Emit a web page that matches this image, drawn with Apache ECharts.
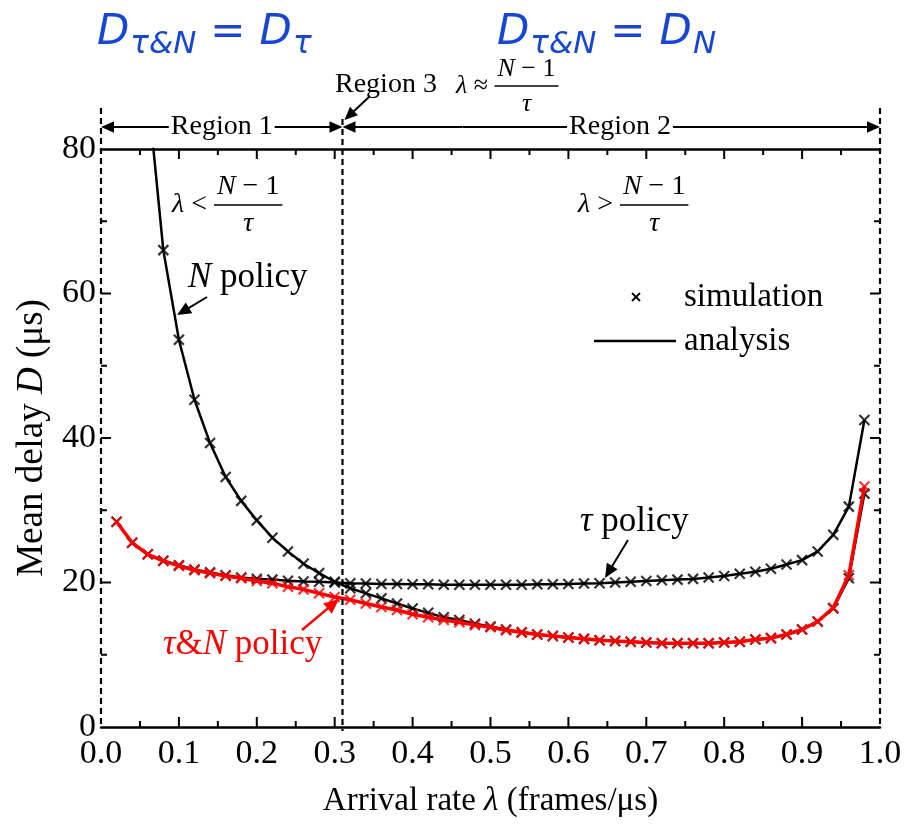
<!DOCTYPE html>
<html>
<head>
<meta charset="utf-8">
<script src="https://cdn.jsdelivr.net/npm/echarts@6/dist/echarts.min.js"></script>
<style>
  html, body { margin: 0; padding: 0; background: #fff; }
  #chart { width: 916px; height: 829px; }
</style>
</head>
<body>
<div id="chart"></div>
<script>
// arrival rate λ (frames/us)
const lambdas = [0.02, 0.04, 0.06, 0.08, 0.10, 0.12, 0.14, 0.16, 0.18, 0.20, 0.22, 0.24, 0.26, 0.28, 0.30,
  0.32, 0.34, 0.36, 0.38, 0.40, 0.42, 0.44, 0.46, 0.48, 0.50, 0.52, 0.54, 0.56, 0.58, 0.60,
  0.62, 0.64, 0.66, 0.68, 0.70, 0.72, 0.74, 0.76, 0.78, 0.80, 0.82, 0.84, 0.86, 0.88, 0.90,
  0.92, 0.94, 0.96, 0.98]
// mean delay D (us)
const tauPolicy = [28.4, 25.5, 23.9, 23.0, 22.4, 21.8, 21.4, 21.0, 20.7, 20.5, 20.4, 20.25, 20.15, 20.1, 20.0,
  19.9, 19.85, 19.8, 19.8, 19.75, 19.75, 19.7, 19.7, 19.7, 19.7, 19.7, 19.7, 19.75, 19.75, 19.8,
  19.85, 19.9, 20.0, 20.1, 20.2, 20.3, 20.4, 20.5, 20.7, 20.9, 21.2, 21.5, 21.9, 22.5, 23.1,
  24.3, 26.6, 30.5, 42.5]
const nPolicy = [null, null, 88, 66.0, 53.6, 45.3, 39.3, 34.6, 31.3, 28.6, 26.2, 24.3, 22.6, 21.3, 20.1,
  19.2, 18.5, 17.8, 17.1, 16.4, 15.8, 15.2, 14.8, 14.3, 13.9, 13.5, 13.1, 12.8, 12.6, 12.4,
  12.2, 12.0, 11.9, 11.8, 11.7, 11.6, 11.6, 11.6, 11.6, 11.7, 11.8, 12.1, 12.3, 12.8, 13.5,
  14.6, 16.4, 20.6, 32.3]
const tnPolicy = [28.4, 25.5, 23.9, 23.0, 22.3, 21.7, 21.3, 20.9, 20.6, 20.2, 19.9, 19.4, 19.05, 18.5, 18.0,
  17.6, 17.1, 16.6, 16.2, 15.6, 15.2, 14.8, 14.5, 14.1, 13.8, 13.4, 13.1, 12.8, 12.6, 12.4,
  12.2, 12.0, 11.9, 11.8, 11.7, 11.6, 11.6, 11.6, 11.6, 11.7, 11.8, 12.1, 12.3, 12.8, 13.5,
  14.6, 16.5, 21.0, 33.3]
// boundary (N-1)/tau between region 1 and region 2
const boundary = 0.31

// tick positions (major / minor)
const xMajor = [0.1, 0.2, 0.3, 0.4, 0.5, 0.6, 0.7, 0.8, 0.9]
const xMinor = [0.05, 0.15, 0.25, 0.35, 0.45, 0.55, 0.65, 0.75, 0.85, 0.95]
const yMajor = [20, 40, 60]
const yMinor = [10, 30, 50, 70]

const serif = 'Liberation Serif'
const mathFont = 'DejaVu Sans'
const blue = '#1747d2'
const red = '#ff0000'

function pairs (ys) {
  return lambdas.map((x, i) => [x, ys[i]]).filter(p => p[1] !== null)
}

const cross = 'path://M0,0L10,10M10,0L0,10'

function simSeries (ys, color, z) {
  return {
    type: 'scatter',
    data: pairs(ys),
    symbol: cross,
    symbolSize: 10,
    clip: true,
    z: z,
    itemStyle: { color: 'rgba(0,0,0,0)', borderColor: color, borderWidth: 2.2 }
  }
}

function lineSeries (ys, color, width, z) {
  return {
    type: 'line',
    data: pairs(ys),
    symbol: 'none',
    clip: true,
    z: z,
    lineStyle: { color: color, width: width }
  }
}

const chart = echarts.init(document.getElementById('chart'), null, { renderer: 'canvas' })

function axis (extra) {
  return Object.assign({
    type: 'value',
    splitLine: { show: false },
    minorSplitLine: { show: false },
    axisTick: { show: false },
    minorTick: { show: false }
  }, extra)
}

chart.setOption({
  animation: false,
  backgroundColor: '#fff',
  grid: { left: 101, right: 36, top: 149, bottom: 102 },
  xAxis: [
    axis({
      position: 'bottom',
      min: 0,
      max: 1,
      interval: 0.1,
      axisLine: { show: true, onZero: false, lineStyle: { color: '#000', width: 2.5 } },
      axisLabel: {
        color: '#000', fontFamily: serif, fontSize: 34, margin: 10,
        formatter: v => v.toFixed(1)
      },
      name: 'Arrival rate {i|λ} (frames/μs)',
      nameLocation: 'middle',
      nameGap: 58,
      nameTextStyle: {
        color: '#000', fontFamily: serif, fontSize: 33,
        rich: { i: { fontFamily: serif, fontSize: 33, fontStyle: 'italic', color: '#000' } }
      }
    }),
    axis({
      position: 'top',
      min: 0,
      max: 1,
      interval: 0.1,
      axisLine: { show: true, onZero: false, lineStyle: { color: '#000', width: 2.5 } },
      axisLabel: { show: false }
    })
  ],
  yAxis: [
    axis({
      position: 'left',
      min: 0,
      max: 80,
      interval: 20,
      axisLine: { show: false, onZero: false },
      axisLabel: { color: '#000', fontFamily: serif, fontSize: 34, margin: 5 },
      name: 'Mean delay {i|D} (μs)',
      nameLocation: 'middle',
      nameGap: 50,
      nameTextStyle: {
        color: '#000', fontFamily: serif, fontSize: 37,
        rich: { i: { fontFamily: serif, fontSize: 37, fontStyle: 'italic', color: '#000' } }
      }
    }),
    axis({
      position: 'right',
      min: 0,
      max: 80,
      interval: 20,
      axisLine: { show: false, onZero: false },
      axisLabel: { show: false }
    })
  ],
  series: [
    lineSeries(tauPolicy, '#000', 2.5, 2),
    lineSeries(nPolicy, '#000', 2.5, 2),
    simSeries(tauPolicy, '#000', 3),
    simSeries(nPolicy, '#000', 3),
    lineSeries(tnPolicy, red, 3.5, 4),
    simSeries(tnPolicy, red, 5)
  ]
})

// ---- annotations ----
const ctx = document.createElement('canvas').getContext('2d')
function textWidth (t, font) {
  ctx.font = font
  return ctx.measureText(t).width
}
// lay out pieces side by side: [text, size, italic, dy, gapAfter]
function seq (x, y, parts, color, family) {
  const out = []
  parts.forEach(p => {
    const font = (p[2] ? 'italic ' : '') + p[1] + 'px "' + family + '"'
    out.push({
      type: 'text', x: x, y: y + (p[3] || 0), z: 20,
      style: { text: p[0], font: font, fill: color, align: 'left', verticalAlign: 'middle' }
    })
    x += textWidth(p[0], font) + (p[4] || 0)
  })
  return out
}
function arrow (x1, y1, x2, y2, color, width, head) {
  const dx = x2 - x1
  const dy = y2 - y1
  const len = Math.sqrt(dx * dx + dy * dy)
  const ux = dx / len
  const uy = dy / len
  const hl = head || 14
  const hw = hl * 0.45
  const bx = x2 - ux * hl
  const by = y2 - uy * hl
  return [
    { type: 'line', z: 20, shape: { x1: x1, y1: y1, x2: bx + ux * 2, y2: by + uy * 2 }, style: { stroke: color, lineWidth: width } },
    { type: 'polygon', z: 20, shape: { points: [[x2, y2], [bx - uy * hw, by + ux * hw], [bx + uy * hw, by - ux * hw]] }, style: { fill: color } }
  ]
}
// short tick mark as a thin filled rectangle
function tick (x, y, w, h) {
  return { type: 'rect', z: 16, shape: { x: x, y: y, width: w, height: h }, style: { fill: '#000' } }
}
function vDash (x, y1, y2) {
  return { type: 'line', z: 15, shape: { x1: x, y1: y1, x2: x, y2: y2 }, style: { stroke: '#000', lineWidth: 2.2, lineDash: [6, 4] } }
}
function frac (x, yBar, rel, size) {
  const f = size + 'px "' + serif + '"'
  const fi = 'italic ' + f
  const out = seq(x, yBar, [['λ', size, true], [' ' + rel + ' ', size, false]], '#000', serif)
  const x0 = x + textWidth('λ', fi) + textWidth(' ' + rel + ' ', f)
  const numW = textWidth('N', fi) + textWidth(' − 1', f)
  const barW = numW + 6
  out.push.apply(out, seq(x0 + 3, yBar - size * 0.66, [['N', size, true], [' − 1', size, false]], '#000', serif))
  out.push({ type: 'line', z: 20, shape: { x1: x0, y1: yBar, x2: x0 + barW, y2: yBar }, style: { stroke: '#000', lineWidth: 1.5 } })
  out.push({
    type: 'text', x: x0 + barW / 2, y: yBar + size * 0.68, z: 20,
    style: { text: 'τ', font: fi, fill: '#000', align: 'center', verticalAlign: 'middle' }
  })
  return out
}

const px = v => chart.convertToPixel({ xAxisIndex: 0 }, v)
const py = v => chart.convertToPixel({ yAxisIndex: 0 }, v)
const x0 = px(0)
const x1 = px(1)
const xb = px(boundary)
const yBottom = py(0)
const yTop = py(80)
const yArrow = 127

let g = []
// inward ticks on all four sides
xMajor.forEach(v => {
  g.push(tick(px(v) - 1, yBottom - 10, 2, 10))
  g.push(tick(px(v) - 1, yTop, 2, 10))
})
xMinor.forEach(v => {
  g.push(tick(px(v) - 1, yBottom - 6, 2, 6))
  g.push(tick(px(v) - 1, yTop, 2, 6))
})
yMajor.forEach(v => {
  g.push(tick(x0, py(v) - 1, 10, 2))
  g.push(tick(x1 - 10, py(v) - 1, 10, 2))
})
yMinor.forEach(v => {
  g.push(tick(x0, py(v) - 1, 6, 2))
  g.push(tick(x1 - 6, py(v) - 1, 6, 2))
})

// dashed left/right borders and region boundary
g.push(vDash(x0, 108, yBottom))
g.push(vDash(x1, 108, yBottom))
g.push(vDash(xb, 119, yBottom + 4))

// region arrows
g = g.concat(arrow(x0 + 60, yArrow, x0, yArrow, '#000', 2, 13))
g = g.concat(arrow(x0 + 60, yArrow, xb, yArrow, '#000', 2, 13))
g = g.concat(arrow(xb + 120, yArrow, xb, yArrow, '#000', 2, 13))
g = g.concat(arrow(xb + 120, yArrow, x1, yArrow, '#000', 2, 13))
g.push({ type: 'text', x: (x0 + xb) / 2, y: yArrow, z: 21,
  style: { text: 'Region 1', font: '28px "' + serif + '"', fill: '#000', align: 'center', verticalAlign: 'middle', backgroundColor: '#fff', padding: [0, 2] } })
g.push({ type: 'text', x: 620, y: yArrow, z: 21,
  style: { text: 'Region 2', font: '28px "' + serif + '"', fill: '#000', align: 'center', verticalAlign: 'middle', backgroundColor: '#fff', padding: [0, 2] } })

// region 3
g.push({ type: 'text', x: 335, y: 85, z: 20,
  style: { text: 'Region 3', font: '28px "' + serif + '"', fill: '#000', align: 'left', verticalAlign: 'middle' } })
g = g.concat(frac(456, 86, '≈', 26))
g = g.concat(arrow(370, 96, xb + 2, 120, '#000', 2, 13))

// conditions
g = g.concat(frac(172, 205, '<', 28))
g = g.concat(frac(578, 205, '>', 28))

// blue headers
g = g.concat(seq(97, 33, [['D', 42, true, 0, 1], ['τ&N', 31, true, 12, 14], ['=', 42, false, 0, 14], ['D', 42, true, 0, 1], ['τ', 31, true, 12]], blue, mathFont))
g = g.concat(seq(497, 33, [['D', 42, true, 0, 1], ['τ&N', 31, true, 12, 14], ['=', 42, false, 0, 14], ['D', 42, true, 0, 1], ['N', 31, true, 12]], blue, mathFont))

// policy labels
g = g.concat(seq(188, 278, [['N', 35, true], [' policy', 35, false]], '#000', serif))
g = g.concat(arrow(207, 297, 177, 315, '#000', 2, 14))
g = g.concat(seq(580, 522, [['τ', 35, true], [' policy', 35, false]], '#000', serif))
g = g.concat(arrow(628, 540, 605, 578, '#000', 2, 14))
g = g.concat(seq(163, 645, [['τ', 35, true], ['&', 35, false], ['N', 35, true], [' policy', 35, false]], red, serif))
g = g.concat(arrow(302, 630, 339, 599, red, 2.5, 15))

// legend
g.push({ type: 'line', z: 20, shape: { x1: 632, y1: 293, x2: 640, y2: 301 }, style: { stroke: '#000', lineWidth: 1.8 } })
g.push({ type: 'line', z: 20, shape: { x1: 640, y1: 293, x2: 632, y2: 301 }, style: { stroke: '#000', lineWidth: 1.8 } })
g.push({ type: 'text', x: 684, y: 297, z: 20,
  style: { text: 'simulation', font: '33px "' + serif + '"', fill: '#000', align: 'left', verticalAlign: 'middle' } })
g.push({ type: 'line', z: 20, shape: { x1: 594, y1: 341, x2: 676, y2: 341 }, style: { stroke: '#000', lineWidth: 2.5 } })
g.push({ type: 'text', x: 684, y: 341, z: 20,
  style: { text: 'analysis', font: '33px "' + serif + '"', fill: '#000', align: 'left', verticalAlign: 'middle' } })

chart.setOption({ graphic: { elements: g } })
</script>
</body>
</html>
